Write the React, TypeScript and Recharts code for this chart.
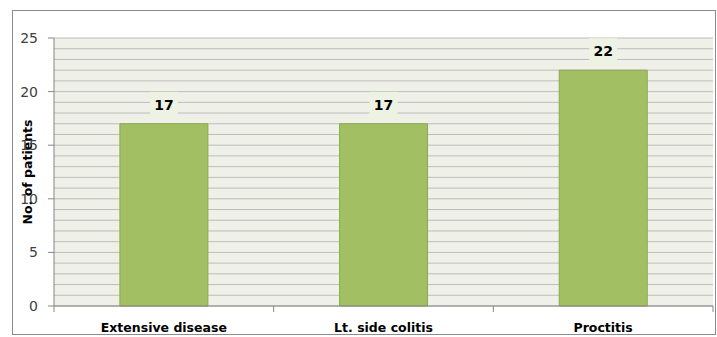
import { BarChart, Bar, XAxis, YAxis, CartesianGrid, LabelList, Label } from "recharts";

const categories = ["Extensive disease", "Lt. side colitis", "Proctitis"];
const patients = [17, 17, 22];
const gridTicks = [0, 1, 2, 3, 4, 5, 6, 7, 8, 9, 10, 11, 12, 13, 14, 15, 16, 17, 18, 19, 20, 21, 22, 23, 24, 25];
const majorTicks = [0, 5, 10, 15, 20, 25];
const yTitle = "No. of patients";

const data = categories.map((name, i) => ({ name, value: patients[i] }));

const FONT = "'DejaVu Sans', sans-serif";
const AXIS = "#868686";

function YTick(props: any) {
  const { x, y, payload } = props;
  if (!majorTicks.includes(payload.value)) return <g />;
  return (
    <g>
      <line x1={x - 6} x2={x} y1={y} y2={y} stroke={AXIS} />
      <text x={x - 16} y={y} dy="0.35em" textAnchor="end" fill="#404040" fontSize={14} fontFamily={FONT}>
        {payload.value}
      </text>
    </g>
  );
}

function XTick(props: any) {
  const { x, y, payload, index, visibleTicksCount } = props;
  const half = payload.offset ?? 110;
  const last = index === visibleTicksCount - 1;
  return (
    <g>
      <line x1={x - half} x2={x - half} y1={y} y2={y + 6} stroke={AXIS} />
      {last && <line x1={x + half} x2={x + half} y1={y} y2={y + 6} stroke={AXIS} />}
      <text x={x} y={y + 17} dy="0.71em" textAnchor="middle" fill="#000" fontSize={12.5} fontWeight="bold" fontFamily={FONT}>
        {payload.value}
      </text>
    </g>
  );
}

function ValueLabel(props: any) {
  const x = Number(props.x);
  const y = Number(props.y);
  const cx = x + Number(props.width) / 2;
  return (
    <g>
      <rect x={cx - 14} y={y - 32} width={28} height={26} fill="#eef2e3" />
      <text x={cx} y={y - 19} dy="0.35em" textAnchor="middle" fill="#000" fontSize={14} fontWeight="bold" fontFamily={FONT}>
        {props.value}
      </text>
    </g>
  );
}

function YTitle(props: any) {
  const vb = props.viewBox || {};
  const cx = vb.x + 28;
  const cy = vb.y + vb.height / 2;
  return (
    <text
      x={cx}
      y={cy}
      dy="0.35em"
      textAnchor="middle"
      transform={`rotate(-90 ${cx} ${cy})`}
      fill="#000"
      fontSize={12.5}
      fontWeight="bold"
      fontFamily={FONT}
    >
      {yTitle}
    </text>
  );
}

export default function App() {
  return (
    <div style={{ position: "fixed", left: 0, top: 0, width: 717, height: 337, background: "#fff" }}>
      <div
        style={{
          position: "absolute",
          left: 12,
          top: 10,
          width: 704,
          height: 325,
          boxSizing: "border-box",
          border: "1.5px solid #8c8c8c",
        }}
      />
      <div style={{ position: "absolute", left: 0, top: 0 }}>
        <BarChart width={717} height={337} data={data} margin={{ top: 38, right: 4, bottom: 0, left: 0 }} barCategoryGap="30%">
          <CartesianGrid vertical={false} stroke="#bcbcbc" fill="#eff1e9" />
          <XAxis
            dataKey="name"
            stroke={AXIS}
            tickLine={false}
            tickSize={0}
            tickMargin={0}
            height={31}
            tick={<XTick />}
            interval={0}
          />
          <YAxis
            width={54}
            domain={[0, 25]}
            ticks={gridTicks}
            interval={0}
            stroke={AXIS}
            tickLine={false}
            tickSize={0}
            tickMargin={0}
            tick={<YTick />}
          >
            <Label content={<YTitle />} />
          </YAxis>
          <Bar dataKey="value" fill="#a2c063" stroke="#8aa84f" isAnimationActive={false}>
            <LabelList dataKey="value" content={<ValueLabel />} />
          </Bar>
        </BarChart>
      </div>
    </div>
  );
}
